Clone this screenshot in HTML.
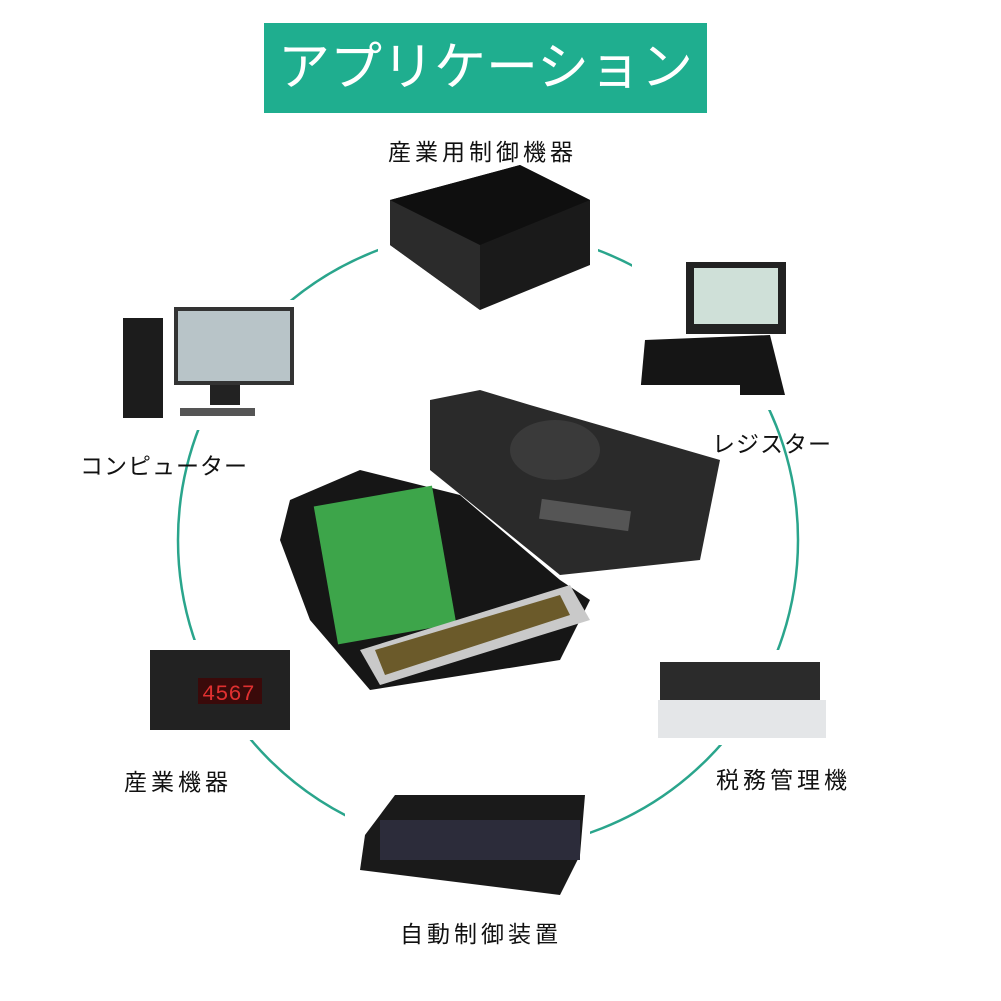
<!DOCTYPE html>
<html><head><meta charset="utf-8"><style>
html,body{margin:0;padding:0;background:#fff;}
body{width:1001px;height:1001px;position:relative;overflow:hidden;font-family:"Liberation Sans","Noto Sans CJK JP",sans-serif;}
.t{position:absolute;color:#111;font-size:23px;letter-spacing:2px;white-space:nowrap;}
#title{position:absolute;left:264px;top:23px;width:443px;height:90px;background:#1fae8f;color:#fff;font-size:52px;line-height:90px;text-align:center;letter-spacing:0;white-space:nowrap;}
svg{position:absolute;left:0;top:0;}
</style></head><body>
<svg width="1001" height="1001">
<circle cx="488" cy="540" r="310" fill="none" stroke="#2aa58c" stroke-width="2.5"/>
<rect x="378" y="172" width="220" height="146" fill="#fff"/>
<polygon points="390,200 520,165 590,200 590,265 480,310 390,245" fill="#1a1a1a"/>
<polygon points="390,200 480,245 480,310 390,245" fill="#2b2b2b"/>
<polygon points="390,200 520,165 590,200 480,245" fill="#0f0f0f"/>
<rect x="632" y="250" width="165" height="160" fill="#fff"/>
<rect x="686" y="262" width="100" height="72" fill="#222"/>
<rect x="694" y="268" width="84" height="56" fill="#cfe0d8"/>
<polygon points="645,340 770,335 785,395 640,395" fill="#151515"/>
<rect x="110" y="300" width="195" height="130" fill="#fff"/>
<rect x="123" y="318" width="40" height="100" fill="#1c1c1c"/>
<rect x="174" y="307" width="120" height="78" fill="#333"/>
<rect x="178" y="311" width="112" height="70" fill="#b8c4c8"/>
<rect x="210" y="385" width="30" height="20" fill="#222"/>
<rect x="180" y="408" width="75" height="8" fill="#555"/>
<rect x="270" y="385" width="470" height="310" fill="#fff"/>
<polygon points="430,400 480,390 530,405 720,460 700,560 560,575 430,470" fill="#2a2a2a"/>
<polygon points="280,540 290,500 360,470 460,495 560,580 590,600 560,660 370,690 310,620" fill="#161616"/>
<rect x="325" y="495" width="120" height="140" fill="#3da54a" transform="rotate(-10 385 565)"/>
<polygon points="360,650 570,585 590,620 380,685" fill="#c9c9c9"/>
<polygon points="375,650 560,595 570,615 385,675" fill="#6b5a2a"/>
<ellipse cx="555" cy="450" rx="45" ry="30" fill="#3a3a3a"/>
<rect x="540" y="505" width="90" height="20" fill="#555" transform="rotate(8 585 515)"/>
<rect x="140" y="640" width="158" height="100" fill="#fff"/>
<rect x="150" y="650" width="140" height="80" fill="#222"/>
<rect x="198" y="678" width="64" height="26" fill="#3a0a0a"/>
<text x="202" y="700" font-family="Liberation Mono" font-size="22" fill="#e03030">4567</text>
<rect x="650" y="650" width="182" height="95" fill="#fff"/>
<rect x="660" y="662" width="160" height="40" fill="#2b2b2b"/>
<rect x="658" y="700" width="168" height="38" fill="#e4e6e8"/>
<rect x="345" y="770" width="245" height="135" fill="#fff"/>
<polygon points="365,835 395,795 585,795 580,855 560,895 360,870" fill="#1a1a1a"/>
<rect x="380" y="820" width="200" height="40" fill="#2c2c3a"/>
</svg>
<div id="title">アプリケーション</div>
<div class="t" style="left:388px;top:133px;letter-spacing:4px;">産業用制御機器</div>
<div class="t" style="left:80px;top:447px;letter-spacing:1px;">コンピューター</div>
<div class="t" style="left:712px;top:425px;letter-spacing:1px;">レジスター</div>
<div class="t" style="left:124px;top:763px;letter-spacing:4px;">産業機器</div>
<div class="t" style="left:716px;top:761px;letter-spacing:4px;">税務管理機</div>
<div class="t" style="left:400px;top:915px;letter-spacing:4px;">自動制御装置</div>
</body></html>
